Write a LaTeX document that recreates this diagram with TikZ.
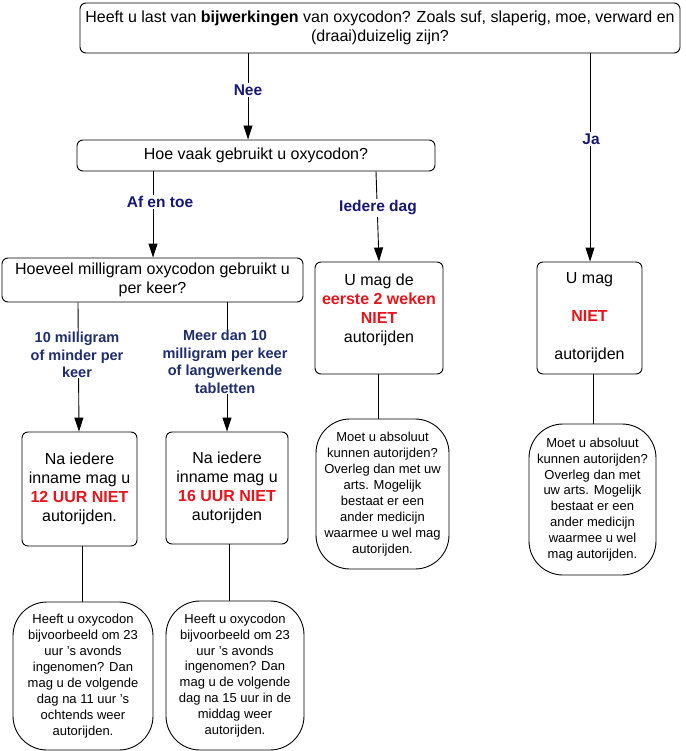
\documentclass[tikz,border=0pt]{standalone}
\usepackage{fontspec}
\setmainfont{Liberation Sans}
\usetikzlibrary{arrows.meta}
\definecolor{navyA}{RGB}{22,22,120}
\definecolor{navyB}{RGB}{30,45,110}
\definecolor{warnred}{RGB}{232,20,28}
\newcommand{\rt}[1]{\textcolor{warnred}{\textbf{#1}}}
\tikzset{
  box/.style={draw, line width=0.9pt, rounded corners=6pt, align=center, inner sep=0pt,
    font=\fontsize{16}{19}\selectfont},
  bubble/.style={draw, line width=0.9pt, rounded corners=34pt, align=center, inner sep=0pt,
    font=\fontsize{13}{15.9}\selectfont},
  lblA/.style={fill=white, inner sep=1.5pt, text=navyA, font=\fontsize{15.5}{17}\selectfont\bfseries},
  lblB/.style={fill=white, inner sep=0pt, text=navyB, align=center, font=\fontsize{14.5}{17.5}\selectfont\bfseries},
  arr/.style={line width=0.9pt, -{Triangle[length=14pt,width=9pt]}},
  conn/.style={line width=0.9pt},
}
\begin{document}
\begin{tikzpicture}[x=1pt,y=-1pt]
\useasboundingbox (0,0) rectangle (685,751);
% boxes
\node[box, minimum width=600pt, minimum height=50pt] (top) at (380,28)
  {Heeft u last van \textbf{bijwerkingen} van oxycodon? Zoals suf, slaperig, moe, verward en\\(draai)duizelig zijn?};
\node[box, minimum width=358pt, minimum height=31pt] (hoevaak) at (256,155.5) {Hoe vaak gebruikt u oxycodon?};
\node[box, minimum width=301pt, minimum height=44pt] (hoeveel) at (152.5,280) {Hoeveel milligram oxycodon gebruikt u\\per keer?};
\node[box, minimum width=128pt, minimum height=112pt] (umagde) at (379,318)
  {U mag de\\\rt{eerste 2 weken}\\\rt{NIET}\\autorijden\\\mbox{}};
\node[box, minimum width=105pt, minimum height=112pt] (umagniet) at (589.5,318)
  {U mag\\\mbox{}\\\rt{NIET}\\\mbox{}\\autorijden};
\node[box, minimum width=115pt, minimum height=114pt] (na12) at (79.5,489)
  {Na iedere\\inname mag u\\\rt{12 UUR NIET}\\autorijden.};
\node[box, minimum width=122pt, minimum height=112pt] (na16) at (227,488)
  {Na iedere\\inname mag u\\\rt{16 UUR NIET}\\autorijden};
% bubbles
\node[bubble, minimum width=140pt, minimum height=148pt] (b1) at (83,676)
  {Heeft u oxycodon\\bijvoorbeeld om 23\\uur 's avonds\\ingenomen? Dan\\mag u de volgende\\dag na 11 uur 's\\ochtends weer\\autorijden.};
\node[bubble, minimum width=138pt, minimum height=149pt] (b2) at (235,675.5)
  {Heeft u oxycodon\\bijvoorbeeld om 23\\uur 's avonds\\ingenomen? Dan\\mag u de volgende\\dag na 15 uur in de\\middag weer\\autorijden.};
\node[bubble, minimum width=133pt, minimum height=150pt] (b3) at (382.5,494)
  {Moet u absoluut\\kunnen autorijden?\\Overleg dan met uw\\arts. Mogelijk\\bestaat er een\\ander medicijn\\waarmee u wel mag\\autorijden.};
\node[bubble, minimum width=127pt, minimum height=151pt] (b4) at (592.5,499.5)
  {Moet u absoluut\\kunnen autorijden?\\Overleg dan met\\uw arts. Mogelijk\\bestaat er een\\ander medicijn\\waarmee u wel\\mag autorijden.};
% connectors with labels
\draw[arr] (top.south -| 248,0) -- (hoevaak.north -| 248,0);
\node[lblA] (nee) at (248,90) {Nee};
\draw[arr] (top.south -| 590,0) -- (umagniet.north -| 590,0);
\node[lblA] (ja) at (591,139) {Ja};
\draw[arr] (hoevaak.south -| 153,0) -- (hoeveel.north -| 153,0);
\node[lblA] (afentoe) at (160,202) {Af en toe};
\draw[arr] (hoevaak.south -| 376,0) -- (umagde.north -| 379,0);
\node[lblA] (iedere) at (378,208) {Iedere dag};
\draw[arr] (hoeveel.south -| 78,0) -- (na12.north -| 79,0);
\node[lblB] (tienmg) at (77,355) {10 milligram\\of minder per\\keer};
\draw[arr] (hoeveel.south -| 227,0) -- (na16.north -| 227,0);
\node[lblB] (meer) at (225,362) {Meer dan 10\\milligram per keer\\of langwerkende\\tabletten};
% plain connectors
\draw[conn] (na12.south -| 82,0) -- (b1.north -| 82,0);
\draw[conn] (na16.south -| 229,0) -- (b2.north -| 229,0);
\draw[conn] (umagde.south -| 378,0) -- (b3.north -| 378,0);
\draw[conn] (umagniet.south -| 593,0) -- (b4.north -| 593,0);
\end{tikzpicture}
\end{document}
